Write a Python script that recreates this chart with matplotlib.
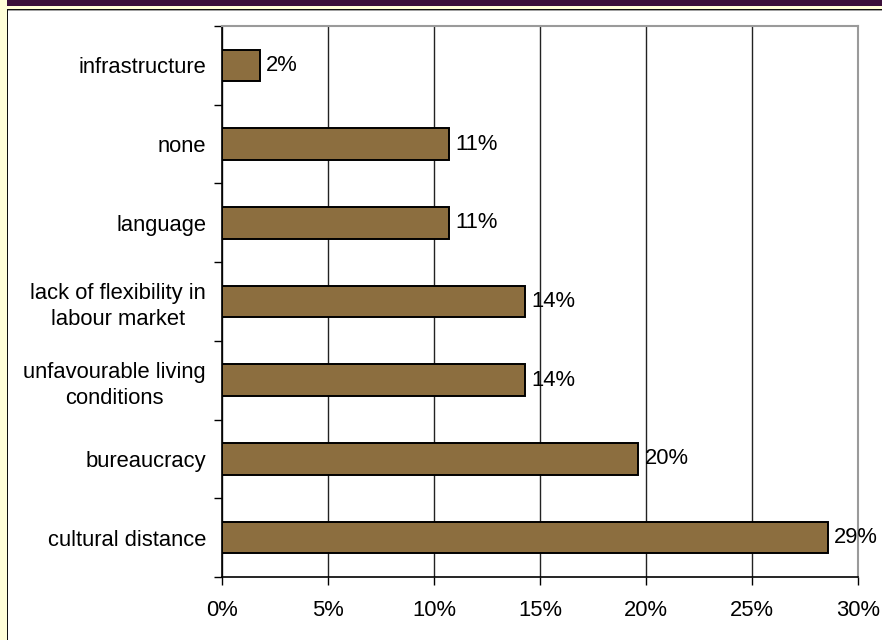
import matplotlib
matplotlib.use("Agg")
import matplotlib.pyplot as plt
from matplotlib.patches import Rectangle
from matplotlib.ticker import MultipleLocator, FuncFormatter, FixedLocator
import numpy as np

plt.rcParams['font.family'] = ['Liberation Sans', 'DejaVu Sans']

# Obstacles named by respondents (share of answers, n = 56)
categories = [
    "cultural distance",
    "bureaucracy",
    "unfavourable living\nconditions",
    "lack of flexibility in\nlabour market",
    "language",
    "none",
    "infrastructure",
]
shares = [28.57, 19.64, 14.29, 14.29, 10.71, 10.71, 1.79]

W, H = 882, 640
FS = 15.8
fig = plt.figure(figsize=(W / 100, H / 100), dpi=100)
fig.patch.set_facecolor("white")

# Window-style frame: purple band, cream strips and thin dark rules
def px_rect(x0, y0, w, h, color):
    fig.patches.append(Rectangle((x0 / W, 1 - (y0 + h) / H), w / W, h / H,
                                 transform=fig.transFigure, facecolor=color,
                                 edgecolor="none", zorder=0))

px_rect(0, 0, W, 6, "#3b0f3b")
px_rect(0, 6, W, 3, "#fffed8")
px_rect(0, 0, 7, H, "#fffed8")
px_rect(0, 6, 7, 3, "#fffed8")
px_rect(7, 9, W - 7, 1.2, "#111111")
px_rect(7, 9, 1.2, H - 9, "#111111")
px_rect(8, 10.2, W - 8, 1, "#a0a0a0")

left, right, top, bottom = 222, 858, 26, 577
ax = fig.add_axes([left / W, 1 - bottom / H, (right - left) / W, (bottom - top) / H])
ax.set_facecolor("white")

y = np.arange(len(categories))
ax.barh(y, shares, height=0.4, color="#8c6e3f", edgecolor="black",
        linewidth=1.4, zorder=3)

for yi, v in zip(y, shares):
    ax.text(v + 0.3, yi, f"{v:.0f}%", va="center", ha="left",
            fontsize=FS, color="black", zorder=4)

ax.set_xlim(0, 30)
ax.set_ylim(-0.5, len(categories) - 0.5)
ax.xaxis.set_major_locator(MultipleLocator(5))
ax.xaxis.set_major_formatter(FuncFormatter(lambda v, p: f"{v:.0f}%"))
ax.grid(axis="x", color="#222222", linewidth=1.0, zorder=1)

# Category labels centred on the bars, ticks at category boundaries
ax.set_yticks(y)
ax.set_yticklabels(categories, fontsize=FS, multialignment="center",
                   linespacing=1.3)
ax.yaxis.set_minor_locator(FixedLocator(np.arange(-0.5, len(categories), 1.0)))
ax.tick_params(axis="y", which="major", length=0, pad=11.5)
ax.tick_params(axis="y", which="minor", length=6, width=1, color="black")
ax.tick_params(axis="x", length=6, width=1, color="black", labelsize=FS, pad=10.5)

for side in ("left", "bottom"):
    ax.spines[side].set_color("black")
    ax.spines[side].set_linewidth(1.2)
for side in ("top", "right"):
    ax.spines[side].set_color("#9a9a9a")
    ax.spines[side].set_linewidth(1.5)

fig.savefig("out.png", dpi=100, facecolor=fig.get_facecolor())
